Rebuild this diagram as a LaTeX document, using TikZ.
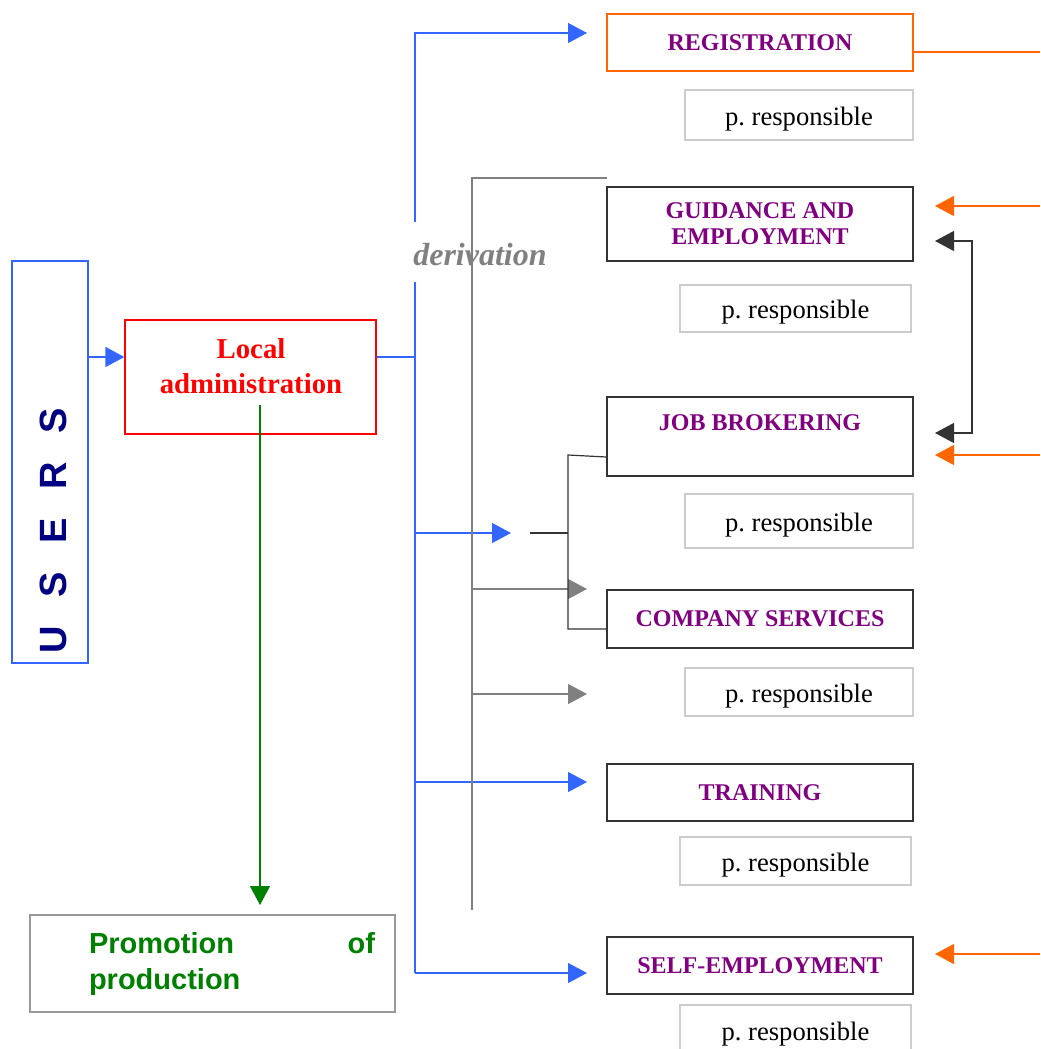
\documentclass[tikz,border=0pt]{standalone}
\usepackage{fontspec}
\setmainfont{Liberation Serif}
\setsansfont{Liberation Sans}
\usetikzlibrary{arrows.meta}

\definecolor{userblue}{RGB}{51,102,255}
\definecolor{usernavy}{RGB}{0,0,128}
\definecolor{orangeline}{RGB}{255,102,0}
\definecolor{titlepurple}{RGB}{128,0,128}
\definecolor{promogreen}{RGB}{0,128,0}

\tikzset{
  titlebox/.style={draw=black!80, line width=0.6pt, minimum width=153pt, inner sep=0pt,
    align=center, text=titlepurple, font=\fontsize{12}{13}\selectfont\bfseries},
  respbox/.style={draw=black!20, line width=0.6pt, inner sep=0pt, text height=13pt,
    font=\fontsize{13.3}{16}\selectfont},
  tip/.style={-{Triangle[length=9.5pt,width=10pt]}},
  blueline/.style={draw=userblue, line width=0.6pt},
  grayline/.style={draw=gray, line width=0.6pt},
  orangearrow/.style={draw=orangeline, line width=0.6pt},
}

\begin{document}
\begin{tikzpicture}[x=0.5pt, y=-0.5pt]
  \useasboundingbox (0,0) rectangle (1040,1049);

  % left column
  \node[draw=userblue, line width=0.6pt, minimum width=38pt, minimum height=201pt, inner sep=0pt]
    (users) at (50,462) {};
  \node[rotate=90, text=usernavy, font=\sffamily\bfseries\fontsize{19}{20}\selectfont]
    (userstext) at (53.5,531) {U\hspace{0.75em}S\hspace{0.75em}E\hspace{0.75em}R\hspace{0.75em}S};

  \node[draw=red, line width=0.6pt, minimum width=125.5pt, minimum height=57pt, inner sep=0pt]
    (local) at (250.5,377) {};
  \node[text=red, align=center, font=\fontsize{14.4}{17.5}\selectfont\bfseries]
    (localtext) at (251,366) {Local\\administration};

  \node[draw=black!40, line width=0.6pt, minimum width=182.5pt, minimum height=48.5pt, inner sep=0pt]
    (promo) at (212.5,963.5) {};
  \node[text=promogreen, text width=143pt, align=left, inner sep=0pt,
    font=\sffamily\bfseries\fontsize{14.5}{18}\selectfont]
    (promotext) at (232,964) {Promotion\hfill of\\production};

  % right column
  \node[titlebox, draw=orangeline, minimum height=28.5pt] (reg) at (760,42.5) {REGISTRATION};
  \node[respbox, minimum width=114pt, minimum height=25pt] (pr1) at (799,115) {p.\ responsible};

  \node[titlebox, minimum height=37pt] (guid) at (760,224) {GUIDANCE AND\\EMPLOYMENT};
  \node[respbox, minimum width=115.5pt, minimum height=23.5pt] (pr2) at (795.5,308.5) {p.\ responsible\hspace{20pt}};

  \node[titlebox, minimum height=39.5pt, text height=16.5pt, text depth=23pt] (job) at (760,436.5) {JOB BROKERING};
  \node[respbox, minimum width=114pt, minimum height=27pt] (pr3) at (799,521) {p.\ responsible};

  \node[titlebox, minimum height=29pt] (comp) at (760,619) {COMPANY SERVICES};
  \node[respbox, minimum width=114pt, minimum height=24pt] (pr4) at (799,692) {p.\ responsible\hspace{20pt}};

  \node[titlebox, minimum height=28.5pt] (train) at (760,792.5) {TRAINING};
  \node[respbox, minimum width=115.5pt, minimum height=24pt] (pr5) at (795.5,861) {p.\ responsible\hspace{20pt}};

  \node[titlebox, minimum height=28.5pt] (self) at (760,965.5) {SELF-EMPLOYMENT};
  \node[respbox, minimum width=115.5pt, minimum height=25pt] (pr6) at (795.5,1030) {p.\ responsible\hspace{20pt}};

  \node[text=gray, font=\fontsize{16}{18}\selectfont\bfseries\itshape] (deriv) at (480,255) {derivation};

  % branch points
  \coordinate (bj) at (415,357);
  \coordinate (btop) at (415,222);
  \coordinate (bbot) at (415,282);
  \coordinate (breg) at (587,33);
  \coordinate (bmid) at (415,533);
  \coordinate (bmidend) at (511,533);
  \coordinate (btrain) at (415,782);
  \coordinate (btrainend) at (587,782);
  \coordinate (bself) at (415,973);
  \coordinate (bselfend) at (587,973);
  \coordinate (gtop) at (607,178);
  \coordinate (gcorner) at (472,178);
  \coordinate (gbot) at (472,910);
  \coordinate (g1) at (472,589);
  \coordinate (g1end) at (587,589);
  \coordinate (g2) at (472,694);
  \coordinate (g2end) at (587,694);
  \coordinate (kin) at (530,533);
  \coordinate (ktop) at (568,455);
  \coordinate (kbot) at (568,629);
  \coordinate (greenstart) at (260,405);
  \coordinate (greenend) at (260,905);

  % connectors
  \draw[blueline, tip] (users.east |- bj) -- (local.west |- bj);
  \draw[blueline] (local.east |- bj) -- (bj);
  \draw[blueline, tip] (btop) |- (breg);
  \draw[blueline] (bbot) -- (bself);
  \draw[blueline, tip] (bself) -- (bselfend);
  \draw[blueline, tip] (btrain) -- (btrainend);
  \draw[blueline, tip] (bmid) -- (bmidend);

  \draw[grayline] (gtop) -- (gcorner) -- (gbot);
  \draw[grayline, tip] (g1) -- (g1end);
  \draw[grayline, tip] (g2) -- (g2end);

  \draw[black!80, line width=0.6pt] (kin) -- (kin -| ktop);
  \draw[black!80, line width=0.6pt] (job.west |- 0,457) -- (ktop) -- (kbot) -- (comp.west |- kbot);

  \draw[draw=promogreen, line width=0.6pt, tip] (greenstart) -- (greenend);

  \draw[orangearrow] (reg.east |- 0,52) -- (1040,52);
  \draw[orangearrow, tip] (1040,206) -- (935,206);
  \draw[orangearrow, tip] (1040,455) -- (935,455);
  \draw[orangearrow, tip] (1040,954) -- (935,954);

  \draw[black!80, line width=0.6pt, {Triangle[length=9.5pt,width=10pt]}-{Triangle[length=9.5pt,width=10pt]}]
    (935,241) -- (972,241) -- (972,433) -- (935,433);
\end{tikzpicture}
\end{document}
